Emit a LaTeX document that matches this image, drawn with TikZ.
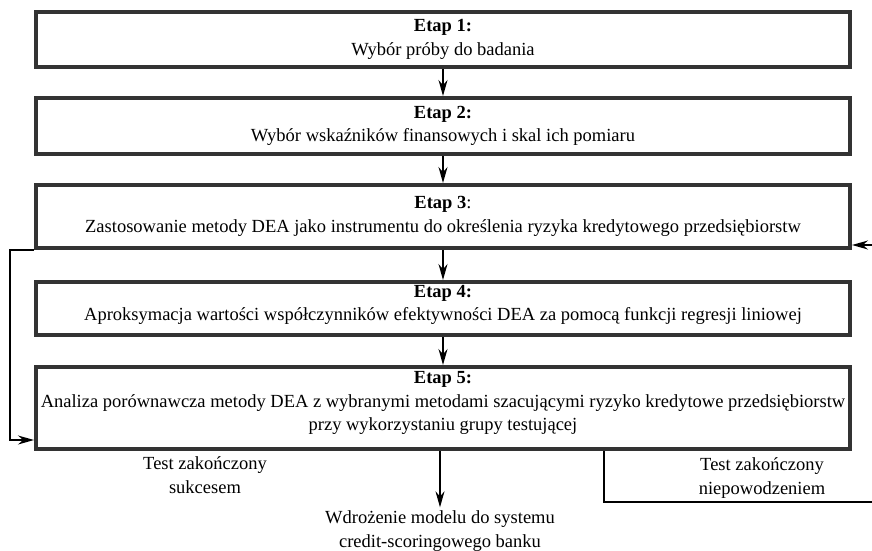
\documentclass[tikz,border=0pt]{standalone}
\usepackage{fontspec}
\setmainfont{Liberation Serif}
\usetikzlibrary{arrows.meta}

\begin{document}
\begin{tikzpicture}[
    x=1pt, y=-1pt,
    every node/.style={font=\fontsize{18.5}{23.5}\selectfont, align=center},
    stage/.style={rectangle, draw=black!80, line width=4pt, minimum width=814pt, inner sep=0pt},
    flow/.style={line width=1.4pt, -{Stealth[length=16pt, width=9pt]}},
    plain/.style={line width=1.4pt}
]
    \useasboundingbox (0,0) rectangle (872,551);

    % Nodes
    \node[stage, minimum height=55pt] (e1) at (443,39.5) {\textbf{Etap 1:}\\Wybór próby do badania};
    \node[stage, minimum height=56pt] (e2) at (443,126) {\textbf{Etap 2:}\\Wybór wskaźników finansowych i skal ich pomiaru};
    \node[stage, minimum height=63pt] (e3) at (443,216.5) {\textbf{Etap 3}:\\Zastosowanie metody DEA jako instrumentu do określenia ryzyka kredytowego przedsiębiorstw};
    \node[stage, minimum height=53pt, text depth=11pt] (e4) at (443,308.5) {\textbf{Etap 4:}\\Aproksymacja wartości współczynników efektywności DEA za pomocą funkcji regresji liniowej};
    \node[stage, minimum height=82pt, text depth=14pt] (e5) at (443,408) {\textbf{Etap 5:}\\Analiza porównawcza metody DEA z wybranymi metodami szacującymi ryzyko kredytowe przedsiębiorstw\\przy wykorzystaniu grupy testującej};

    \node (ok) at (205,475) {Test zakończony\\sukcesem};
    \node (fail) at (762,478) {Test zakończony\\niepowodzeniem};
    \node (impl) at (440,531) {Wdrożenie modelu do systemu\\credit-scoringowego banku};

    \coordinate (loopbottom) at (10,440);
    \coordinate (failcorner) at (604,502);
    \coordinate (failend) at (872,502);
    \coordinate (backin) at (872,245);

    % Edges
    \draw[flow] (e1) -- (e2);
    \draw[flow] (e2) -- (e3);
    \draw[flow] (e3) -- (e4);
    \draw[flow] (e4) -- (e5);
    \draw[flow] (e5.south -| impl) -- (impl);
    \draw[flow] (e3.south west) -| (loopbottom) -- (loopbottom -| e5.west);
    \draw[plain] (e5.south -| failcorner) -- (failcorner) -- (failend);
    \draw[flow] (backin) -- (backin -| e3.east);
\end{tikzpicture}
\end{document}
